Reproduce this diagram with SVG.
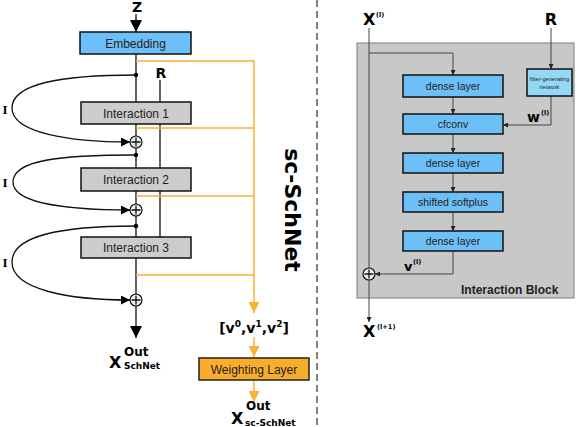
<svg xmlns="http://www.w3.org/2000/svg" width="581" height="427" viewBox="0 0 581 427">
<style>
.lbl{font-family:"Liberation Sans",Arial,sans-serif;font-size:12px;fill:#222;text-anchor:middle}
.rl{font-family:"Liberation Sans",Arial,sans-serif;font-size:10.5px;fill:#222;text-anchor:middle}
.m{font-family:"DejaVu Sans",sans-serif;font-weight:bold;fill:#000}
.ser{font-family:"Liberation Serif","Times New Roman",serif;font-weight:bold;font-size:13px;fill:#000;text-anchor:middle}
.blue{fill:#6dbff8;stroke:#111;stroke-width:1.5}
.gray{fill:#cccccc;stroke:#111;stroke-width:1.5}
.ln{fill:none;stroke:#111;stroke-width:1.3}
.rln{fill:none;stroke:#444;stroke-width:1}
.or{fill:none;stroke:#f9b233;stroke-width:1.5}
.plus{fill:#eeeeee;stroke:#111;stroke-width:1.2}
</style>
<defs>
<marker id="ba" viewBox="0 0 10 10" refX="10" refY="5" markerWidth="12" markerHeight="12" markerUnits="userSpaceOnUse" orient="auto"><path d="M0,0 L10,5 L0,10 z" fill="#000"/></marker>
<marker id="ma" viewBox="0 0 10 10" refX="10" refY="5" markerWidth="9" markerHeight="9" markerUnits="userSpaceOnUse" orient="auto"><path d="M0,0 L10,5 L0,10 z" fill="#000"/></marker>
<marker id="oa" viewBox="0 0 10 10" refX="10" refY="5" markerWidth="11" markerHeight="11" markerUnits="userSpaceOnUse" orient="auto"><path d="M0,0 L10,5 L0,10 z" fill="#f9b233"/></marker>
<marker id="sa" viewBox="0 0 10 10" refX="10" refY="5" markerWidth="5" markerHeight="5" markerUnits="userSpaceOnUse" orient="auto"><path d="M0,0 L10,5 L0,10 z" fill="#222"/></marker>
</defs>

<!-- right interaction block background -->
<rect id="interaction-block" x="357" y="43" width="217" height="255" fill="#c8c8c8" stroke="#7f7f7f" stroke-width="1"/>

<g id="connectors">
  <line class="ln" x1="136" y1="14" x2="136" y2="32" marker-end="url(#ba)"/>
  <line class="ln" x1="136" y1="54" x2="136" y2="338" marker-end="url(#ba)"/>
  <line class="ln" x1="160" y1="80" x2="160" y2="237"/>
  <path class="ln" d="M136,75 C60,75 12,84 12,108 C12,133 70,142 130,142" marker-end="url(#ma)"/>
  <path class="ln" d="M136,155 C60,155 13,160 13,182 C13,204 70,210 130,210" marker-end="url(#ma)"/>
  <path class="ln" d="M136,226 C60,226 12,236 12,262 C12,290 70,300 130,300" marker-end="url(#ma)"/>
  <polyline class="or" points="136,61 254,61 254,313" marker-end="url(#oa)"/>
  <line class="or" x1="136" y1="128" x2="254" y2="128"/>
  <line class="or" x1="136" y1="196" x2="254" y2="196"/>
  <line class="or" x1="136" y1="275" x2="254" y2="275"/>
  <line class="or" x1="254" y1="337" x2="254" y2="357" marker-end="url(#oa)"/>
  <line class="or" x1="254" y1="381" x2="254" y2="402" marker-end="url(#oa)"/>
  <line x1="317" y1="0" x2="317" y2="427" stroke="#808080" stroke-width="2" stroke-dasharray="7,4"/>
  <line class="rln" x1="369" y1="28" x2="369" y2="322" marker-end="url(#sa)"/>
  <polyline class="rln" points="369,53 453,53 453,75" marker-end="url(#sa)"/>
  <line class="rln" x1="453" y1="97" x2="453" y2="114" marker-end="url(#sa)"/>
  <line class="rln" x1="453" y1="134" x2="453" y2="153" marker-end="url(#sa)"/>
  <line class="rln" x1="453" y1="173" x2="453" y2="192" marker-end="url(#sa)"/>
  <line class="rln" x1="453" y1="212" x2="453" y2="231" marker-end="url(#sa)"/>
  <line class="rln" x1="551" y1="28" x2="551" y2="69" marker-end="url(#sa)"/>
  <polyline class="rln" points="551,96 551,125 503,125" marker-end="url(#sa)"/>
  <polyline class="rln" points="453,251 453,274 375,274" marker-end="url(#sa)"/>
</g>

<g id="embedding"><rect class="blue" x="80" y="32" width="111" height="22"/><text class="lbl" x="135.5" y="47.5">Embedding</text></g>
<g id="interaction1"><rect class="gray" x="81" y="102" width="110" height="22"/><text class="lbl" x="136" y="117.5">Interaction 1</text></g>
<g id="interaction2"><rect class="gray" x="81" y="168" width="110" height="23"/><text class="lbl" x="136" y="184">Interaction 2</text></g>
<g id="interaction3"><rect class="gray" x="81" y="237" width="110" height="21"/><text class="lbl" x="136" y="252">Interaction 3</text></g>
<g id="weighting"><rect x="199" y="358" width="110" height="22" fill="#f9ad2a" stroke="#222" stroke-width="1.5"/><text class="lbl" x="254" y="373.5">Weighting Layer</text></g>

<g id="dots">
  <circle cx="136" cy="75" r="2.2" fill="#000"/>
  <circle cx="136" cy="155" r="2.2" fill="#000"/>
  <circle cx="136" cy="226" r="2.2" fill="#000"/>
</g>
<g id="plus1"><circle class="plus" cx="136" cy="142" r="6"/><path class="ln" d="M131.5,142 H140.5 M136,137.5 V146.5"/></g>
<g id="plus2"><circle class="plus" cx="136" cy="210" r="6"/><path class="ln" d="M131.5,210 H140.5 M136,205.5 V214.5"/></g>
<g id="plus3"><circle class="plus" cx="136" cy="300" r="6"/><path class="ln" d="M131.5,300 H140.5 M136,295.5 V304.5"/></g>

<g id="left-labels">
  <text class="m" x="137" y="12" font-size="14" text-anchor="middle">Z</text>
  <text class="m" x="161" y="78" font-size="14" text-anchor="middle">R</text>
  <text class="ser" x="5" y="114">I</text>
  <text class="ser" x="5" y="187">I</text>
  <text class="ser" x="5" y="267">I</text>
  <text class="m" x="109" y="368" font-size="16">X</text>
  <text class="m" x="124" y="356" font-size="12">Out</text>
  <text class="m" x="124" y="369" font-size="9">SchNet</text>
  <text class="m" x="254" y="333" font-size="14" text-anchor="middle">[v<tspan font-size="9" dy="-6">0</tspan><tspan dy="6">,v</tspan><tspan font-size="9" dy="-6">1</tspan><tspan dy="6">,v</tspan><tspan font-size="9" dy="-6">2</tspan><tspan dy="6">]</tspan></text>
  <text class="m" x="231" y="424" font-size="16">X</text>
  <text class="m" x="246" y="410" font-size="12">Out</text>
  <text class="m" x="245" y="426" font-size="9">sc-SchNet</text>
  <text class="m" font-size="22" text-anchor="middle" transform="translate(285,210) rotate(90)">sc-SchNet</text>
</g>

<g id="dense1"><rect class="blue" x="403" y="75" width="100" height="22"/><text class="rl" x="453" y="90">dense layer</text></g>
<g id="cfconv"><rect class="blue" x="403" y="114" width="100" height="20"/><text class="rl" x="453" y="128">cfconv</text></g>
<g id="dense2"><rect class="blue" x="403" y="153" width="100" height="20"/><text class="rl" x="453" y="167">dense layer</text></g>
<g id="softplus"><rect class="blue" x="403" y="192" width="100" height="20"/><text class="rl" x="453" y="206">shifted softplus</text></g>
<g id="dense3"><rect class="blue" x="403" y="231" width="100" height="20"/><text class="rl" x="453" y="245">dense layer</text></g>
<g id="filter"><rect x="527" y="69" width="45" height="27" fill="#93d8f7" stroke="#111" stroke-width="1.5"/>
  <text class="rl" font-size="11" transform="translate(549.5,81) scale(0.54)">filter-generating</text>
  <text class="rl" font-size="11" transform="translate(549.5,89) scale(0.54)">network</text></g>
<g id="plus-r"><circle class="plus" cx="369" cy="274" r="6"/><path class="ln" d="M364.5,274 H373.5 M369,269.5 V278.5"/></g>

<g id="right-labels">
  <text class="m" x="363" y="25" font-size="16">X</text>
  <text class="m" font-size="12" transform="translate(376,17) scale(0.55)">(l)</text>
  <text class="m" x="551" y="25" font-size="16" text-anchor="middle">R</text>
  <text class="m" x="527" y="122" font-size="14">w</text>
  <text class="m" font-size="12" transform="translate(541,115) scale(0.55)">(l)</text>
  <text class="m" x="404" y="271" font-size="13">v</text>
  <text class="m" font-size="12" transform="translate(413,264) scale(0.55)">(l)</text>
  <text font-family="Liberation Sans,Arial,sans-serif" font-weight="bold" font-size="12" x="461" y="294" fill="#222">Interaction Block</text>
  <text class="m" x="363" y="337" font-size="16">X</text>
  <text class="m" font-size="12" transform="translate(377,329) scale(0.55)">(l+1)</text>
</g>
</svg>
